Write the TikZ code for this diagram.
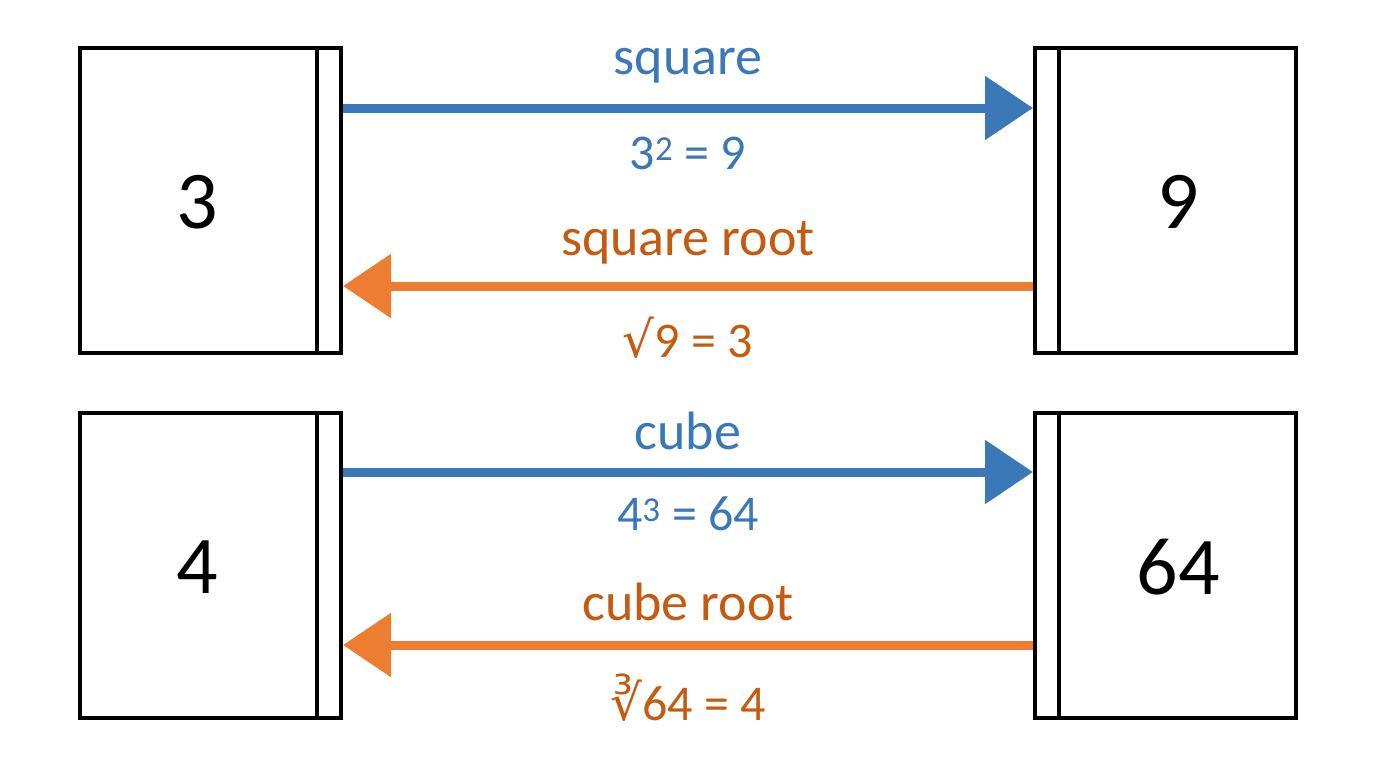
\documentclass[tikz,border=0pt]{standalone}
\usepackage{fontspec}
\setmainfont{Carlito}
\newfontfamily\djv{DejaVu Sans}
\usetikzlibrary{arrows.meta}
\definecolor{bl}{HTML}{3A78B8}
\definecolor{orA}{HTML}{ED7D31}
\definecolor{orT}{HTML}{C55A11}
\begin{document}
\begin{tikzpicture}[x=1pt,y=-1pt,
 box/.style={draw,line width=4pt,minimum width=261pt,minimum height=305pt,inner sep=0},
 num/.style={font=\fontsize{82}{82}\selectfont},
 arr/.style={line width=9pt,-{Triangle[length=48pt,width=62pt]}},
 lab/.style={font=\fontsize{54}{54}\selectfont},
 sub/.style={font=\fontsize{50}{50}\selectfont}]
\useasboundingbox (0,0) rectangle (1376,768);
\node[box] (a) at (210.5,200.5) {};
\node[box] (b) at (1165.5,200.5) {};
\node[box] (c) at (210.5,565.5) {};
\node[box] (d) at (1165.5,565.5) {};
\node[num] (an) at (197,202) {3};
\node[num] (bn) at (1178,202) {9};
\node[num] (cn) at (197,567) {4};
\node[num] (dn) at (1178,567) {64};
\foreach \n in {a,c}{\draw[line width=4pt] ([xshift=-26pt]\n.north east) -- ([xshift=-26pt]\n.south east);}
\foreach \n in {b,d}{\draw[line width=4pt] ([xshift=26pt]\n.north west) -- ([xshift=26pt]\n.south west);}
\coordinate (a1) at (343,108);
\coordinate (b1) at (1033,108);
\coordinate (a2) at (343,286);
\coordinate (b2) at (1033,286);
\coordinate (c1) at (343,472);
\coordinate (d1) at (1033,472);
\coordinate (c2) at (343,645);
\coordinate (d2) at (1033,645);
\draw[arr,bl] (a1) -- (b1);
\draw[arr,orA] (b2) -- (a2);
\draw[arr,bl] (c1) -- (d1);
\draw[arr,orA] (d2) -- (c2);
\node[lab,text=bl] (l1) at (688,66) {square};
\node[sub,text=bl] (l2) at (688,153) {3\textsuperscript{2} = 9};
\node[lab,text=orT] (l3) at (688,243) {square root};
\node[sub,text=orT] (l4) at (688,338) {{\djv √}9 = 3};
\node[lab,text=bl] (l5) at (688,431) {cube};
\node[sub,text=bl] (l6) at (688,514) {4\textsuperscript{3} = 64};
\node[lab,text=orT] (l7) at (688,602) {cube root};
\node[sub,text=orT] (l8) at (688,698) {{\djv ∛}64 = 4};
\end{tikzpicture}
\end{document}
